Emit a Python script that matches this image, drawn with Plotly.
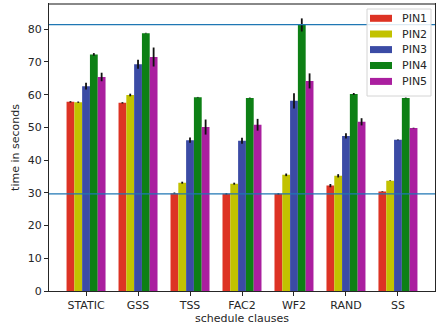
import plotly.graph_objects as go

categories = ["STATIC", "GSS", "TSS", "FAC2", "WF2", "RAND", "SS"]
series_names = ["PIN1", "PIN2", "PIN3", "PIN4", "PIN5"]

pin1 = [57.8, 57.5, 29.9, 29.7, 29.7, 32.2, 30.4]
pin2 = [57.7, 59.9, 33.1, 32.8, 35.5, 35.2, 33.7]
pin3 = [62.6, 69.3, 46.1, 45.9, 58.1, 47.4, 46.2]
pin4 = [72.3, 78.8, 59.2, 59.0, 81.3, 60.2, 59.0]
pin5 = [65.4, 71.5, 50.1, 50.8, 64.2, 51.7, 49.8]

err1 = [0.2, 0.2, 0.2, 0.2, 0.2, 0.5, 0.1]
err2 = [0.2, 0.4, 0.3, 0.3, 0.4, 0.5, 0.1]
err3 = [1.0, 1.4, 0.8, 0.9, 2.3, 0.8, 0.1]
err4 = [0.4, 0.1, 0.1, 0.1, 2.0, 0.3, 0.1]
err5 = [1.3, 2.9, 2.3, 1.8, 2.3, 1.1, 0.1]

hline_low = 29.65
hline_high = 81.4

colors = ["#dd3324", "#c2c200", "#3b4ba5", "#0d8015", "#aa1f9f"]

values = [pin1, pin2, pin3, pin4, pin5]
errors = [err1, err2, err3, err4, err5]

W, H = 439, 329
L, R, T, B = 49, 4, 4, 38
PW, PH = W - L - R, H - T - B


def px(x):
    return (x - L) / PW


def py(y):
    return (H - B - y) / PH


fig = go.Figure()
for name, vals, errs, col in zip(series_names, values, errors, colors):
    fig.add_trace(go.Bar(
        x=categories, y=vals, name=name,
        marker=dict(color=col, line=dict(width=0)),
        error_y=dict(type="data", array=errs, visible=True, color="#111111",
                     thickness=1.8, width=0),
        showlegend=False,
    ))

for yv in (hline_low, hline_high):
    fig.add_shape(type="line", xref="paper", x0=0, x1=1, yref="y", y0=yv, y1=yv,
                  line=dict(color="#1f77b4", width=1.3), layer="above")

fig.add_shape(type="line", xref="paper", x0=0, x1=1, yref="paper", y0=1, y1=1,
              line=dict(color="#888888", width=2), layer="above")

# legend (drawn manually to mimic wide rectangular swatches)
fig.add_shape(type="rect", xref="paper", yref="paper",
              x0=px(367), x1=px(431), y0=py(96), y1=py(9),
              fillcolor="rgba(255,255,255,0.85)", line=dict(color="#d4d4d4", width=1),
              layer="above")
row_y = [18.3, 34.0, 49.6, 65.5, 81.4]
for name, col, yc in zip(series_names, colors, row_y):
    fig.add_shape(type="rect", xref="paper", yref="paper",
                  x0=px(370), x1=px(392), y0=py(yc + 3.5), y1=py(yc - 3.5),
                  fillcolor=col, line=dict(width=0), layer="above")
    fig.add_annotation(xref="paper", yref="paper", x=px(400), y=py(yc),
                       text=name, showarrow=False, xanchor="left", yanchor="middle",
                       font=dict(size=11, color="#262626"))

fig.update_layout(
    width=W, height=H,
    margin=dict(l=L, r=R, t=T, b=B),
    paper_bgcolor="white", plot_bgcolor="white",
    barmode="group", bargap=0.25, bargroupgap=0,
    font=dict(family="DejaVu Sans", size=11, color="#262626"),
    showlegend=False,
    xaxis=dict(
        type="category", range=[-0.7125, 6.7125],
        showline=True, linecolor="#262626", linewidth=1.2, mirror=True,
        ticks="outside", ticklen=4, tickcolor="#262626",
        showgrid=False, zeroline=False,
        title=dict(text="schedule clauses", font=dict(size=11), standoff=2),
    ),
    yaxis=dict(
        range=[0, 87.7], tickvals=[0, 10, 20, 30, 40, 50, 60, 70, 80],
        showline=True, linecolor="#262626", linewidth=1.2, mirror=True,
        ticks="outside", ticklen=4, tickcolor="#262626",
        showgrid=False, zeroline=False,
        title=dict(text="time in seconds", font=dict(size=11), standoff=5),
    ),
)

fig.write_html("out.html", post_script="document.body.style.margin='0';",
               config={"displayModeBar": False})
